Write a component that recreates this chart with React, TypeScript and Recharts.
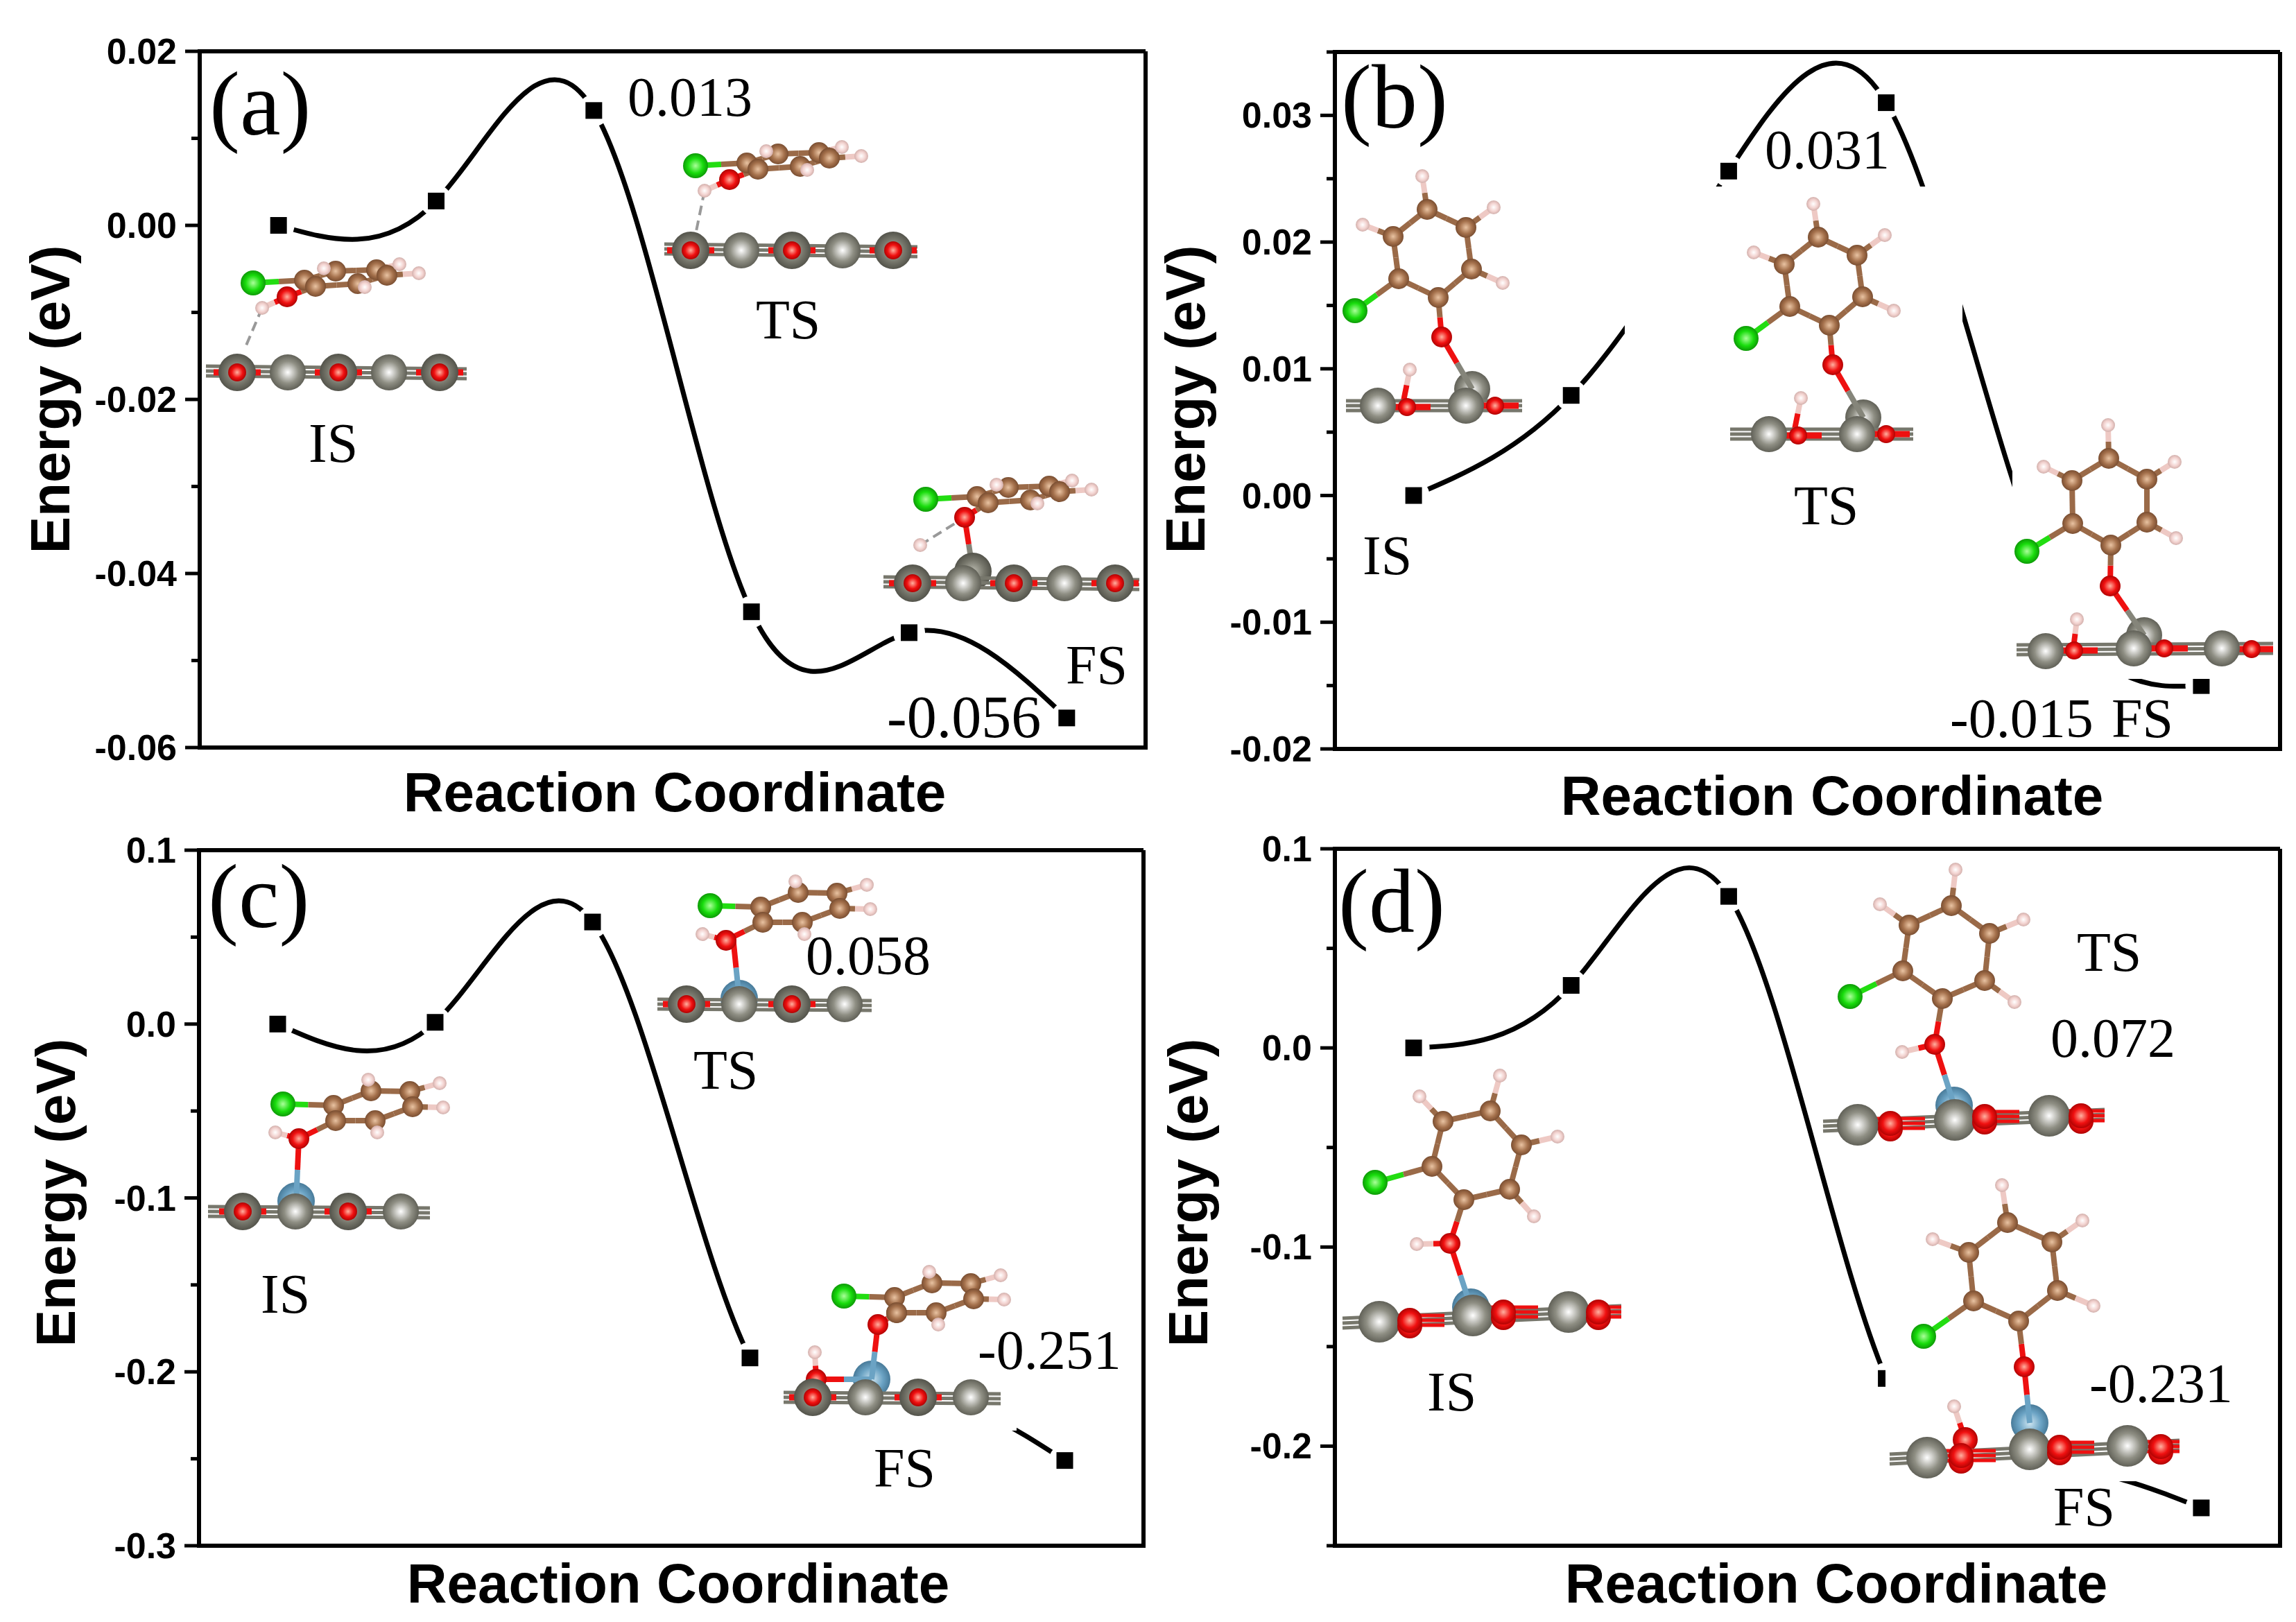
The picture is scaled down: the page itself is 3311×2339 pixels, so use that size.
import React from 'react';
import { LineChart, Line, XAxis, YAxis, ReferenceLine } from 'recharts';

const steps = [1, 2, 3, 4, 5, 6];
const energyA = [0, 0.0028, 0.0132, -0.0444, -0.0468, -0.0566];
const energyB = [0, 0.0079, 0.0256, 0.031, -0.0056, -0.015];
const energyC = [0, 0.001, 0.0587, -0.192, -0.217, -0.251];
const energyD = [0, 0.0314, 0.0761, -0.166, -0.212, -0.231];

const ticksA = [0.02, 0.01, 0, -0.01, -0.02, -0.03, -0.04, -0.05, -0.06];
const labelsA = [0.02, 0, -0.02, -0.04, -0.06];
const ticksB = [0.035, 0.03, 0.025, 0.02, 0.015, 0.01, 0.005, 0, -0.005, -0.01, -0.015, -0.02];
const labelsB = [0.03, 0.02, 0.01, 0, -0.01, -0.02];
const ticksC = [0.1, 0.05, 0, -0.05, -0.1, -0.15, -0.2, -0.25, -0.3];
const labelsC = [0.1, 0, -0.1, -0.2, -0.3];
const ticksD = [0.1, 0.05, 0, -0.05, -0.1, -0.15, -0.2, -0.25];
const labelsD = [0.1, 0, -0.1, -0.2];

const SANS = '"Liberation Sans", Arial, sans-serif';
const SERIF = '"Liberation Serif", "Times New Roman", serif';

const makeTick = (labels: number[], digits: number) => (props: any) => {
  const { x, y, payload } = props;
  const isMajor = labels.some((v) => Math.abs(v - payload.value) < 1e-9);
  return (
    <g key={payload.value}>
      <line x1={x} x2={x - (isMajor ? 21 : 12)} y1={y} y2={y} stroke="#000" strokeWidth={5} />
      {isMajor && (
        <text x={x - 33} y={y + 18} textAnchor="end" fontFamily={SANS} fontWeight="bold" fontSize={52} fill="#000">
          {payload.value.toFixed(digits)}
        </text>
      )}
    </g>
  );
};

// white halo gives the gap-to-symbol look of the original
const squareDot = (props: any) => {
  const { cx, cy, index } = props;
  return (
    <g key={index}>
      <circle cx={cx} cy={cy} r={23} fill="#fff" />
      <rect x={cx - 12} y={cy - 12} width={24} height={24} fill="#000" />
    </g>
  );
};

type PanelProps = {
  left: number; top: number; width: number; height: number;
  yWidth: number; xHeight: number; mTop: number; mRight: number;
  values: number[]; domain: number[]; ticks: number[]; labels: number[]; digits: number;
};

const Panel = (p: PanelProps) => {
  const rows = steps.map((step, i) => ({ step, energy: p.values[i] }));
  const axisLine = { stroke: '#000', strokeWidth: 6, strokeLinecap: 'square' as const };
  return (
    <div style={{ position: 'absolute', left: p.left, top: p.top }}>
      <LineChart width={p.width} height={p.height} data={rows} margin={{ top: p.mTop, right: p.mRight, left: 0, bottom: 0 }}>
        <XAxis type="number" dataKey="step" domain={[0.5, 6.5]} height={p.xHeight} tick={false} tickLine={false} axisLine={axisLine} />
        <YAxis type="number" domain={p.domain} ticks={p.ticks} interval={0} width={p.yWidth} tickSize={0} tickMargin={0} tickLine={false} tick={makeTick(p.labels, p.digits)} axisLine={axisLine} />
        <ReferenceLine y={p.domain[1]} stroke="#000" strokeWidth={6} />
        <ReferenceLine x={6.5} stroke="#000" strokeWidth={6} />
        <Line type="natural" dataKey="energy" stroke="#000" strokeWidth={7} dot={squareDot} isAnimationActive={false} />
      </LineChart>
    </div>
  );
};

/* ---------- molecule insets ---------- */
type Kind = 'C' | 'H' | 'O' | 'Cl' | 'Ti' | 'TiD' | 'Co';
type AtomRow = [Kind, number, number];
const RADIUS: Record<Kind, number> = { C: 15, H: 10, O: 15, Cl: 18, Ti: 26, TiD: 27, Co: 27 };
const BOND: Record<Kind, string> = { C: '#9a6a48', H: '#eec9c4', O: '#ee1010', Cl: '#22dd11', Ti: '#85857a', TiD: '#85857a', Co: '#6ba3c4' };

const flatBonds: [number, number][] = [[0, 3], [1, 4], [1, 2], [3, 5], [5, 7], [7, 8], [8, 6], [6, 4], [4, 3], [5, 9], [6, 10], [7, 11], [8, 12]];
const noOH = flatBonds.filter(([i, j]) => !(i === 1 && j === 2));
const flatGrey: AtomRow[] = [
  ['Cl', 0, 0], ['O', 49, 20], ['H', 13, 36], ['C', 74, -4], ['C', 90, 5], ['C', 119, -17], ['C', 151, 1],
  ['C', 178, -19], ['C', 193, -11], ['H', 102, -21], ['H', 161, 6], ['H', 211, -27], ['H', 239, -14],
];
const flatGreyFS: AtomRow[] = flatGrey.map((a, i) => (i === 2 ? ['H', -8, 66] : i === 1 ? ['O', 56, 26] : a));
const flatBlue: AtomRow[] = [
  ['Cl', 0, 0], ['O', 23, 50], ['H', -11, 41], ['C', 73, 2], ['C', 76, 24], ['C', 127, -19], ['C', 133, 24],
  ['C', 183, -18], ['C', 187, 4], ['H', 123, -35], ['H', 136, 41], ['H', 226, -30], ['H', 231, 5],
];
// in FS the O-H hydrogen has left for the surface, it is drawn apart
const flatBlueFS: AtomRow[] = flatBlue.map((a, i) => (i === 1 ? ['O', 49, 41] : i === 2 ? ['C', 76, 24] : a));
const upBonds: [number, number][] = [[0, 3], [1, 2], [2, 3], [3, 4], [4, 5], [5, 6], [6, 7], [7, 2], [5, 8], [4, 9], [6, 10], [7, 11], [1, 12]];
const upB: AtomRow[] = [
  ['Cl', -125, -38], ['O', 0, 0], ['C', -5, -57], ['C', -62, -84], ['C', -70, -145], ['C', -21, -184], ['C', 35, -158],
  ['C', 43, -98], ['H', -28, -232], ['H', -114, -162], ['H', 75, -187], ['H', 88, -78],
];
const upBFS: AtomRow[] = [
  ['Cl', -120, -50], ['O', 0, 0], ['C', 1, -59], ['C', -54, -90], ['C', -55, -152], ['C', -2, -184], ['C', 53, -154],
  ['C', 53, -92], ['H', -3, -232], ['H', -96, -172], ['H', 93, -179], ['H', 95, -69],
];
const upDIS: AtomRow[] = [
  ['Cl', -108, -88], ['O', 0, 0], ['C', 20, -63], ['C', -26, -111], ['C', -10, -176], ['C', 58, -191], ['C', 103, -142],
  ['C', 86, -78], ['H', 72, -242], ['H', -44, -212], ['H', 155, -154], ['H', 121, -39], ['H', -48, 1],
];
const upDTS: AtomRow[] = [
  ['Cl', -122, -69], ['O', 0, 0], ['C', 11, -66], ['C', -46, -106], ['C', -37, -172], ['C', 24, -200], ['C', 79, -160],
  ['C', 72, -92], ['H', 30, -252], ['H', -79, -202], ['H', 128, -180], ['H', 115, -61], ['H', -47, 11],
];
const upDFS: AtomRow[] = [
  ['Cl', -145, -44], ['O', 0, 0], ['C', -8, -66], ['C', -73, -95], ['C', -80, -165], ['C', -24, -208], ['C', 40, -180],
  ['C', 48, -110], ['H', -32, -262], ['H', -132, -184], ['H', 84, -211], ['H', 100, -88],
];

const AtomDot = ({ kind, x, y, r }: { kind: Kind; x: number; y: number; r?: number }) => (
  <circle cx={x} cy={y} r={r ?? RADIUS[kind]} fill={`url(#g${kind})`} />
);

const Stick = ({ a, b }: { a: AtomRow; b: AtomRow }) => {
  const mx = (a[1] + b[1]) / 2;
  const my = (a[2] + b[2]) / 2;
  return (
    <g strokeWidth={8}>
      <line x1={a[1]} y1={a[2]} x2={mx} y2={my} stroke={BOND[a[0]]} />
      <line x1={mx} y1={my} x2={b[1]} y2={b[2]} stroke={BOND[b[0]]} />
    </g>
  );
};

const Molecule = ({ atoms, bonds, x, y }: { atoms: AtomRow[]; bonds: [number, number][]; x: number; y: number }) => {
  const placed = atoms.map(([k, dx, dy]) => [k, x + dx, y + dy] as AtomRow);
  return (
    <g>
      {bonds.filter(([i, j]) => placed[i] && placed[j]).map(([i, j]) => <Stick key={`${i}-${j}`} a={placed[i]} b={placed[j]} />)}
      {placed.map((a, i) => <AtomDot key={i} kind={a[0]} x={a[1]} y={a[2]} />)}
    </g>
  );
};

type Pt = [number, number];
const Slab = ({ x0, x1, y0, y1, grey, red, dark, reach = 34, big }: { x0: number; x1: number; y0: number; y1: number; grey: Pt[]; red: Pt[]; dark?: boolean; reach?: number; big?: boolean }) => (
  <g>
    {[-7, 0, 7].map((o) => <line key={o} x1={x0} x2={x1} y1={y0 + o} y2={y1 + o} stroke="#77776c" strokeWidth={5} />)}
    {red.map(([x, y], i) => (
      <g key={i}>
        {(big ? [-7, 0, 7] : [0]).map((o) => (
          <line key={o} x1={Math.max(x - reach, x0)} x2={Math.min(x + reach, x1)} y1={y + o} y2={y + o} stroke="#ee1010" strokeWidth={big ? 5 : 9} />
        ))}
      </g>
    ))}
    {grey.map(([x, y], i) => <AtomDot key={i} kind={dark && i % 2 === 0 ? 'TiD' : 'Ti'} x={x} y={y} r={big ? 30 : undefined} />)}
    {red.map(([x, y], i) => (
      <g key={i}>
        {big && <AtomDot kind="O" x={x} y={y + 8} r={18} />}
        <AtomDot kind="O" x={x} y={y} r={big ? 18 : 13} />
      </g>
    ))}
  </g>
);

const row = (x: number, y: number, dx: number, n: number): Pt[] => Array.from({ length: n }, (_, i) => [x + dx * i, y] as Pt);
const odd = (pts: Pt[]) => pts.filter((_, i) => i % 2 === 0);

const Note = ({ x, y, size = 80, children }: { x: number; y: number; size?: number; children: React.ReactNode }) => (
  <text x={x} y={y} fontFamily={SERIF} fontSize={size} fill="#000">{children}</text>
);
const XTitle = ({ x, y }: { x: number; y: number }) => (
  <text x={x} y={y} textAnchor="middle" fontFamily={SANS} fontWeight="bold" fontSize={80} fill="#000">Reaction Coordinate</text>
);
const YTitle = ({ x, y }: { x: number; y: number }) => (
  <text transform={`translate(${x},${y}) rotate(-90)`} textAnchor="middle" fontFamily={SANS} fontWeight="bold" fontSize={80} fill="#000">Energy (eV)</text>
);
const Dash = ({ x1, y1, x2, y2 }: { x1: number; y1: number; x2: number; y2: number }) => (
  <line x1={x1} y1={y1} x2={x2} y2={y2} stroke="#999" strokeWidth={4} strokeDasharray="14 8" />
);
const Bond = ({ a, b }: { a: AtomRow; b: AtomRow }) => <Stick a={a} b={b} />;

const gradients: [Kind, string, string, string][] = [
  ['C', '#e9c3a2', '#a5714c', '#6f452a'],
  ['H', '#ffffff', '#f3d3d0', '#c9a6a2'],
  ['O', '#ffb0a0', '#f01010', '#a00000'],
  ['Cl', '#aaff99', '#18dc0c', '#0a8a05'],
  ['Ti', '#ffffff', '#8f8f84', '#55554c'],
  ['TiD', '#bbbbb0', '#77776c', '#4a4a42'],
  ['Co', '#cfe6f2', '#6ba3c4', '#3f708e'],
];

const Insets = () => (
  <svg width={3311} height={2339} style={{ position: 'absolute', left: 0, top: 0, pointerEvents: 'none' }}>
    <defs>
      {gradients.map(([k, a, b, c]) => (
        <radialGradient key={k} id={`g${k}`} cx="0.5" cy="0.5" r="0.55">
          <stop offset="0" stopColor={a} />
          <stop offset="0.55" stopColor={b} />
          <stop offset="1" stopColor={c} />
        </radialGradient>
      ))}
    </defs>

    {/* white backgrounds of the pasted molecule pictures, they cut the curves */}
    <rect x={2343} y={269} width={487} height={500} fill="#fff" />
    <rect x={2902} y={600} width={378} height={379} fill="#fff" />
    <rect x={1094} y={1816} width={372} height={247} fill="#fff" />
    <rect x={1060} y={1972} width={40} height={60} fill="#fff" />
    <rect x={2719} y={1690} width={424} height={446} fill="#fff" />

    {/* (a) */}
    <Note x={302} y={194} size={132}>(a)</Note>
    <Note x={905} y={167}>0.013</Note>
    <Note x={445} y={666}>IS</Note>
    <Note x={1090} y={488}>TS</Note>
    <Note x={1537} y={986}>FS</Note>
    <Note x={1279} y={1063} size={86}>-0.056</Note>
    <Dash x1={378} y1={444} x2={355} y2={498} />
    <Slab x0={297} x1={673} y0={535} y1={539} grey={row(342, 537, 73, 5)} red={odd(row(342, 537, 73, 5))} dark />
    <Molecule atoms={flatGrey} bonds={flatBonds} x={365} y={408} />
    <Dash x1={1016} y1={275} x2={1003} y2={338} />
    <Slab x0={958} x1={1323} y0={359} y1={363} grey={row(996, 361, 73, 5)} red={odd(row(996, 361, 73, 5))} dark />
    <Molecule atoms={flatGrey} bonds={flatBonds} x={1003} y={239} />
    <Bond a={['O', 1391, 746]} b={['Ti', 1403, 824]} />
    <Dash x1={1327} y1={786} x2={1385} y2={750} />
    <AtomDot kind="TiD" x={1403} y={824} />
    <Slab x0={1274} x1={1643} y0={839} y1={843} grey={row(1316, 841, 73, 5)} red={odd(row(1316, 841, 73, 5))} dark />
    <Molecule atoms={flatGreyFS} bonds={noOH} x={1335} y={720} />

    {/* (b) */}
    <Note x={1934} y={184} size={132}>(b)</Note>
    <Note x={2545} y={243}>0.031</Note>
    <Note x={1965} y={828}>IS</Note>
    <Note x={2587} y={756}>TS</Note>
    <Note x={2812} y={1063}>-0.015</Note>
    <Note x={3045} y={1063}>FS</Note>
    <AtomDot kind="Ti" x={2123} y={561} />
    <Bond a={['O', 2079, 486]} b={['Ti', 2123, 561]} />
    <Bond a={['H', 2033, 533]} b={['O', 2024, 578]} />
    <AtomDot kind="H" x={2033} y={533} />
    <Slab x0={1941} x1={2195} y0={585} y1={585} grey={[[1987, 585], [2114, 585]]} red={[[2029, 587], [2156, 585]]} />
    <Molecule atoms={upB} bonds={upBonds} x={2079} y={486} />
    <AtomDot kind="Ti" x={2687} y={602} />
    <Bond a={['O', 2643, 526]} b={['Ti', 2687, 602]} />
    <Bond a={['H', 2597, 574]} b={['O', 2588, 619]} />
    <AtomDot kind="H" x={2597} y={574} />
    <Slab x0={2495} x1={2759} y0={626} y1={626} grey={[[2551, 626], [2678, 626]]} red={[[2593, 628], [2720, 626]]} />
    <Molecule atoms={upB} bonds={upBonds} x={2643} y={526} />
    <AtomDot kind="Ti" x={3092} y={916} />
    <Bond a={['O', 3043, 845]} b={['Ti', 3092, 916]} />
    <Bond a={['H', 2995, 893]} b={['O', 2990, 935]} />
    <AtomDot kind="H" x={2995} y={893} />
    <Slab x0={2908} x1={3278} y0={937} y1={935} grey={[[2950, 939], [3077, 935], [3204, 935]]} red={[[2991, 938], [3121, 935], [3247, 936]]} />
    <Molecule atoms={upBFS} bonds={upBonds} x={3043} y={845} />

    {/* (c) */}
    <Note x={300} y={1337} size={132}>(c)</Note>
    <Note x={1162} y={1405}>0.058</Note>
    <Note x={1000} y={1570}>TS</Note>
    <Note x={376} y={1893}>IS</Note>
    <Note x={1410} y={1974}>-0.251</Note>
    <Note x={1260} y={2144}>FS</Note>
    <AtomDot kind="Co" x={427} y={1732} />
    <Bond a={['O', 431, 1642]} b={['Co', 427, 1732]} />
    <Slab x0={300} x1={620} y0={1747} y1={1749} grey={row(350, 1747, 76, 4)} red={odd(row(350, 1747, 76, 4))} dark />
    <Molecule atoms={flatBlue} bonds={flatBonds} x={408} y={1592} />
    <AtomDot kind="Co" x={1066} y={1440} />
    <Bond a={['O', 1057, 1351]} b={['Co', 1066, 1440]} />
    <Slab x0={948} x1={1257} y0={1448} y1={1450} grey={row(990, 1448, 76, 4)} red={odd(row(990, 1448, 76, 4))} dark />
    <Molecule atoms={flatBlue} bonds={flatBonds} x={1024} y={1306} />
    <AtomDot kind="Co" x={1257} y={1989} />
    <Bond a={['O', 1266, 1910]} b={['Co', 1257, 1989]} />
    <Bond a={['H', 1175, 1950]} b={['O', 1177, 1989]} />
    <Bond a={['O', 1177, 1989]} b={['Co', 1257, 1989]} />
    <AtomDot kind="H" x={1175} y={1950} />
    <AtomDot kind="O" x={1177} y={1989} />
    <Slab x0={1130} x1={1443} y0={2015} y1={2017} grey={row(1172, 2015, 76, 4)} red={odd(row(1172, 2015, 76, 4))} dark />
    <Molecule atoms={flatBlueFS} bonds={noOH} x={1217} y={1869} />

    {/* (d) */}
    <Note x={1930} y={1344} size={132}>(d)</Note>
    <Note x={2995} y={1400}>TS</Note>
    <Note x={2957} y={1524}>0.072</Note>
    <Note x={2058} y={2034}>IS</Note>
    <Note x={3013} y={2022}>-0.231</Note>
    <Note x={2961} y={2200}>FS</Note>
    <AtomDot kind="Co" x={2121} y={1885} />
    <Bond a={['O', 2091, 1793]} b={['Co', 2121, 1885]} />
    <Slab x0={1936} x1={2338} y0={1908} y1={1890} grey={[[1989, 1906], [2124, 1897], [2262, 1892]]} red={[[2033, 1904], [2168, 1892], [2305, 1892]]} reach={50} big />
    <Molecule atoms={upDIS} bonds={upBonds} x={2091} y={1793} />
    <AtomDot kind="Co" x={2818} y={1594} />
    <Bond a={['O', 2790, 1506]} b={['Co', 2818, 1594]} />
    <Slab x0={2629} x1={3035} y0={1624} y1={1607} grey={[[2679, 1622], [2819, 1615], [2955, 1609]]} red={[[2726, 1620], [2862, 1610], [3001, 1609]]} reach={50} big />
    <Molecule atoms={upDTS} bonds={upBonds} x={2790} y={1506} />
    <AtomDot kind="Co" x={2927} y={2052} />
    <Bond a={['O', 2919, 1971]} b={['Co', 2927, 2052]} />
    <Bond a={['H', 2818, 2028]} b={['O', 2834, 2076]} />
    <AtomDot kind="H" x={2818} y={2028} />
    <AtomDot kind="O" x={2834} y={2076} r={18} />
    <Slab x0={2725} x1={3143} y0={2104} y1={2084} grey={[[2779, 2102], [2927, 2090], [3068, 2085]]} red={[[2828, 2099], [2970, 2087], [3116, 2086]]} reach={50} big />
    <Molecule atoms={upDFS} bonds={upBonds} x={2919} y={1971} />

    <XTitle x={973} y={1170} />
    <XTitle x={2642} y={1175} />
    <XTitle x={978} y={2311} />
    <XTitle x={2648} y={2311} />
    <YTitle x={100} y={576} />
    <YTitle x={1737} y={576} />
    <YTitle x={108} y={1720} />
    <YTitle x={1741} y={1720} />
  </svg>
);

export default function App() {
  return (
    <div style={{ position: 'absolute', left: 0, top: 0, width: 3311, height: 2339, background: '#fff', overflow: 'hidden' }}>
      <Panel left={0} top={0} width={1660} height={1180} yWidth={288} xHeight={102} mTop={74} mRight={8}
        values={energyA} domain={[-0.06, 0.02]} ticks={ticksA} labels={labelsA} digits={2} />
      <Panel left={1660} top={0} width={1651} height={1180} yWidth={265} xHeight={100} mTop={75} mRight={23}
        values={energyB} domain={[-0.02, 0.035]} ticks={ticksB} labels={labelsB} digits={2} />
      <Panel left={0} top={1180} width={1660} height={1159} yWidth={287} xHeight={110} mTop={46} mRight={11}
        values={energyC} domain={[-0.3, 0.1]} ticks={ticksC} labels={labelsC} digits={1} />
      <Panel left={1660} top={1180} width={1651} height={1159} yWidth={265} xHeight={110} mTop={44} mRight={23}
        values={energyD} domain={[-0.25, 0.1]} ticks={ticksD} labels={labelsD} digits={1} />
      <Insets />
    </div>
  );
}
